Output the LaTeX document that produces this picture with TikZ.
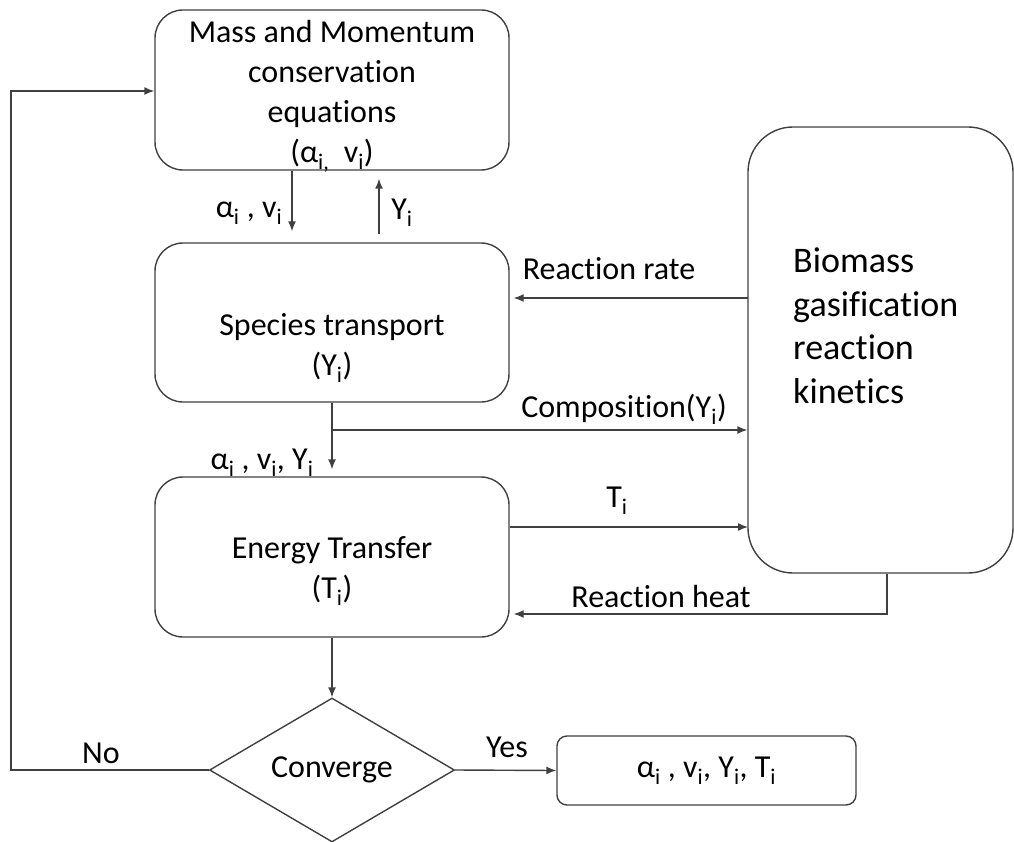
\documentclass[tikz,border=0pt]{standalone}
\usepackage{fontspec}
\setmainfont{Carlito}[Ligatures=NoCommon]
\usetikzlibrary{arrows.meta,shapes.geometric}
\definecolor{ln}{HTML}{404040}
\newcommand{\lo}[1]{\textsubscript{#1}}
\begin{document}
\begin{tikzpicture}[x=1pt,y=-1pt,
  every node/.style={font=\fontsize{32}{40}\selectfont, text=black},
  box/.style={draw=ln, line width=1.4pt, rounded corners=28pt, inner sep=0pt, align=center},
  conn/.style={draw=ln, line width=1.4pt, -{Latex[length=10pt,width=8pt]}},
  lab/.style={inner sep=0pt}]
\useasboundingbox (0,0) rectangle (1014,842);

% boxes
\node[box, minimum width=354pt, minimum height=160pt] (mass) at (332,90) {};
\node[lab, align=center] (masst) at (332,96)
  {Mass and Momentum\\conservation\\equations\\(α\lo{i,}\ \ v\lo{i})};
\node[box, minimum width=354pt, minimum height=159pt] (spec) at (332,322.5) {};
\node[lab, align=center] (spect) at (332,348) {Species transport\\(Y\lo{i})};
\node[box, minimum width=354pt, minimum height=160pt] (energy) at (332,557) {};
\node[lab, align=center] (energyt) at (332,571) {Energy Transfer\\(T\lo{i})};
\node[box, rounded corners=45pt, minimum width=265pt, minimum height=446pt] (bio) at (880.5,350) {};
\node[lab, anchor=north west, align=left, font=\fontsize{36}{43.5}\selectfont] (biot) at (793,248)
  {Biomass\\gasification\\reaction\\kinetics};
\node[draw=ln, line width=1.4pt, diamond, aspect=1.7, inner sep=0pt,
  minimum width=245pt, minimum height=144pt] (conv) at (332,770) {Converge};
\node[box, rounded corners=10pt, minimum width=299pt, minimum height=69pt] (res) at (706.5,770.5)
  {α\lo{i} , v\lo{i}, Y\lo{i}, T\lo{i}};

% coordinates
\coordinate (rr) at (748,298);
\coordinate (cp) at (332,430);
\coordinate (tt) at (748,527);
\coordinate (hq) at (887,614);
\coordinate (fb) at (11,91);

% connectors
\draw[conn] ([xshift=-40pt]mass.south) -- ([xshift=-40pt,yshift=11pt]spec.north);
\draw[conn] ([xshift=47pt,yshift=8pt]spec.north) -- ([xshift=47pt,yshift=-8pt]mass.south);
\draw[conn] (rr) -- ([xshift=4pt]rr -| spec.east);
\draw[conn] (spec.south) -- ([yshift=7pt]energy.north);
\draw[conn] (cp) -- (cp -| bio.west);
\draw[conn] (tt -| energy.east) -- (tt);
\draw[conn] (bio.south -| hq) -- (hq) -- ([xshift=4pt]hq -| energy.east);
\draw[conn] (energy.south) -- (conv.north);
\draw[conn] (conv.west) -| (fb) -- (fb -| mass.west);
\draw[conn] (conv.east) -- (res.west);

% labels
\node[lab] (l1) at (249,213) {α\lo{i} , v\lo{i}};
\node[lab] (l2) at (402,213) {Y\lo{i}};
\node[lab] (l3) at (609,269) {Reaction rate};
\node[lab] (l4) at (624,409) {Composition(Y\lo{i})};
\node[lab] (l5) at (262,463) {α\lo{i} , v\lo{i}, Y\lo{i}};
\node[lab] (l6) at (617,501) {T\lo{i}};
\node[lab] (l7) at (661,597) {Reaction heat};
\node[lab] (l8) at (101,753) {No};
\node[lab] (l9) at (507,747) {Yes};
\end{tikzpicture}
\end{document}
